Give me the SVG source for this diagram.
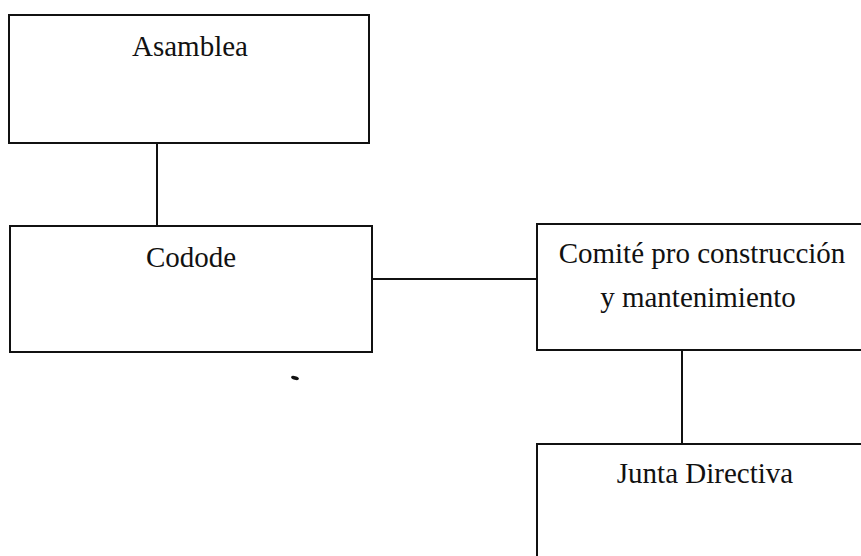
<svg xmlns="http://www.w3.org/2000/svg" width="861" height="556" viewBox="0 0 861 556">
<style>
.box{fill:#fff;stroke:#111;stroke-width:2}
.lbl{font-family:"Liberation Serif","Times New Roman",serif;font-size:29px;fill:#111;text-anchor:middle}
.conn line{stroke:#111;stroke-width:2}
</style>
<rect width="861" height="556" fill="#fff"/>
<g class="conn" id="connectors">
<line x1="157" y1="144" x2="157" y2="227"/>
<line x1="372" y1="279" x2="537" y2="279"/>
<line x1="682" y1="350" x2="682" y2="444"/>
</g>
<g id="asamblea">
<rect class="box" x="9" y="15" width="360" height="128"/>
<text class="lbl" x="190" y="56">Asamblea</text>
</g>
<g id="codode">
<rect class="box" x="10" y="226" width="362" height="126"/>
<text class="lbl" x="191" y="267">Codode</text>
</g>
<g id="comite">
<rect class="box" x="537" y="224" width="340" height="126"/>
<text class="lbl" x="702" y="263">Comité pro construcción</text>
<text class="lbl" x="698" y="307">y mantenimiento</text>
</g>
<g id="junta">
<rect class="box" x="537" y="444" width="340" height="130"/>
<text class="lbl" x="705" y="483">Junta Directiva</text>
</g>
<ellipse cx="295" cy="378" rx="4" ry="1.8" fill="#111" transform="rotate(15 295 378)"/>
</svg>
